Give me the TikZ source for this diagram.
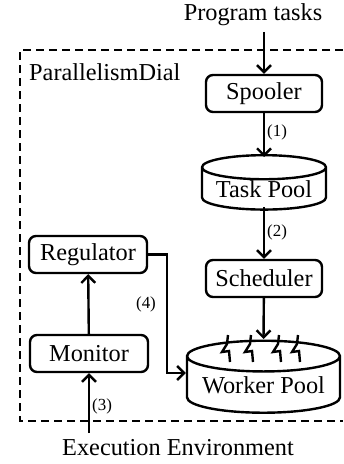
\documentclass[tikz,border=0pt]{standalone}
\usepackage{fontspec}
\setmainfont{Liberation Serif}
\usetikzlibrary{shapes.geometric,arrows.meta,calc}

\tikzset{
  box/.style={draw,rounded corners=3.5bp,minimum width=59bp,minimum height=18.5bp,
    inner sep=0pt,font=\fontsize{12.2}{14}\selectfont},
  pool/.style={draw,cylinder,shape border rotate=90,aspect=0.25,inner sep=0pt,
    font=\fontsize{12.2}{14}\selectfont},
  num/.style={anchor=west,inner sep=1bp,font=\fontsize{8.5}{10}\selectfont},
  lbl/.style={inner sep=0pt,font=\fontsize{12.2}{14}\selectfont},
  arr/.style={-{Straight Barb[length=3.5bp,width=7bp]}},
}

\begin{document}
\begin{tikzpicture}[x=0.5bp,y=-0.5bp,line width=1.2bp]
  \useasboundingbox (0,0) rectangle (343,464);

  % dashed frame
  \draw[line width=1bp,dash pattern=on 4bp off 2.5bp] (343,50) -- (20,50) -- (20,421) -- (343,421);
  \node[lbl,anchor=west] (dial) at (28,72) {ParallelismDial};

  % outside texts
  \node[lbl] (prog) at (253,15) {Program tasks};
  \node[lbl] (exec) at (178,448) {Execution Environment};
  \coordinate (progin) at (264,32);
  \coordinate (execout) at (89,433);

  % right column
  \node[box,minimum width=58bp] (spooler) at (264,93.5) {Spooler};
  \node[pool,minimum width=62bp,minimum height=26.5bp] (taskpool) at (264,189) {Task Pool};
  \node[box,minimum width=58bp] (scheduler) at (264,278.5) {Scheduler};
  \node[pool,minimum width=76.5bp,minimum height=36bp] (workerpool) at (263.5,385) {Worker Pool};
  \coordinate (tasktop) at (264,157);
  \coordinate (workertop) at (263.5,339);

  % left column
  \node[box] (regulator) at (88,254.5) {Regulator};
  \node[box] (monitor) at (89,353.5) {Monitor};

  % connectors
  \draw[arr] (progin) -- (spooler.north);
  \draw[arr] (spooler) -- node[num,pos=0.45] {(1)} (tasktop);
  \draw[arr] (taskpool.south |- 0,207) -- node[num,pos=0.5] {(2)} (scheduler);
  \draw[arr] (scheduler) -- (workertop);
  \draw[arr] (execout) -- node[num,pos=0.45] {(3)} (monitor);
  \draw[arr] (monitor) -- (regulator);
  \draw[arr] (regulator.east) -- ++(19,0) |- (workerpool.west |- 0,373);
  \node[num,anchor=center] (four) at (146,304) {(4)};

  % workers
  \foreach \dx in {-36.5,-13.5,14.5,33.5}
    \draw ($(workertop)+(\dx+1,-4)$) -- ++(-1,9) -- ++(-5,8) -- ++(7,-1) -- ++(1,11);
\end{tikzpicture}
\end{document}
